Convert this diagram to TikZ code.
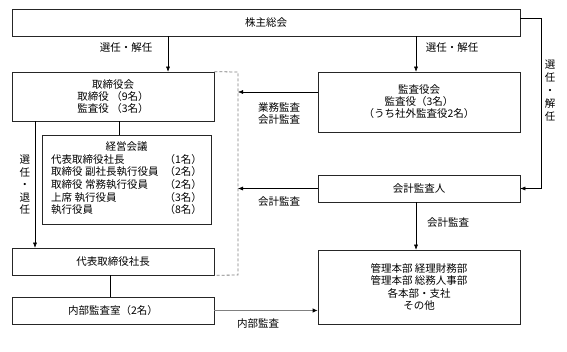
\documentclass[tikz,border=0pt]{standalone}
\usepackage{fontspec}
\setmainfont{Noto Sans CJK JP}
\usetikzlibrary{arrows.meta}
\tikzset{
  box/.style={draw=black!85,line width=0.6pt,inner sep=2pt,align=center,font=\fontsize{10.5}{12}\selectfont},
  arr/.style={-{Latex[length=5pt,width=4pt]},line width=0.5pt},
  lbl/.style={font=\fontsize{10.5}{12}\selectfont,align=center}
}
\begin{document}
\begin{tikzpicture}[x=1pt,y=-1pt]
\useasboundingbox (0,0) rectangle (567,351);
\node[box,minimum width=508pt,minimum height=27pt] (kabunushi) at (266,22.5) {株主総会};
\node[box,minimum width=202pt,minimum height=49pt] (torishimari) at (113,96.5) {取締役会\\取締役 （9名）\\監査役 （3名）};
\node[box,minimum width=202pt,minimum height=60pt] (kansayaku) at (419,102) {監査役会\\監査役（3名）\\（うち社外監査役2名）};
\node[box,minimum width=169pt,minimum height=89pt] (keiei) at (126.5,179.5) {\begin{tabular}{@{}l@{\hspace{6pt}}l@{}}
\multicolumn{2}{c}{経営会議}\\
代表取締役社長&（1名）\\
取締役 副社長執行役員&（2名）\\
取締役 常務執行役員&（2名）\\
上席 執行役員&（3名）\\
執行役員&（8名）
\end{tabular}};
\node[box,minimum width=202pt,minimum height=27pt] (kaikei) at (419,188.5) {会計監査人};
\node[box,minimum width=202pt,minimum height=27pt] (daihyo) at (113,261.5) {代表取締役社長};
\node[box,minimum width=202pt,minimum height=27pt] (naibu) at (113,310.5) {内部監査室（2名）};
\node[box,minimum width=202pt,minimum height=74pt,font=\fontsize{10.5}{12.5}\selectfont] (kanri) at (419,287) {管理本部 経理財務部\\管理本部 総務人事部\\各本部・支社\\その他};

\coordinate (a1) at (168,0);
\coordinate (a2) at (416,0);
\coordinate (a3) at (119,0);
\coordinate (a4) at (35,0);
\coordinate (a5) at (110,0);
\coordinate (m1) at (0,92);
\coordinate (r1) at (541,18);
\coordinate (dash1) at (238,72);
\coordinate (dash2) at (238,275);

\draw[arr] (kabunushi.south -| a1) -- (torishimari.north -| a1);
\draw[arr] (kabunushi.south -| a2) -- (kansayaku.north -| a2);
\draw[arr] (kaikei.south -| a2) -- (kanri.north -| a2);
\draw (torishimari.south -| a3) -- (keiei.north -| a3);
\draw[arr] (torishimari.south -| a4) -- (daihyo.north -| a4);
\draw (daihyo.south -| a5) -- (naibu.north -| a5);
\draw[-{Latex[length=5pt,width=4.5pt,color=black]},gray,line width=1.2pt] (naibu.east) -- (naibu.east -| kanri.west);
\draw[dash pattern=on 3pt off 2pt,gray,line width=0.8pt] (torishimari.north east) -- (dash1) -- (dash2) -- (daihyo.south east);
\draw[arr] (kansayaku.west |- m1) -- (dash1 |- m1);
\draw[arr] (kaikei.west) -- (dash1 |- kaikei.west);
\draw[arr] (kabunushi.east |- r1) -- (r1) -- (r1 |- kaikei.east) -- (kaikei.east);

\node[lbl] (l1) at (126,48) {選任・解任};
\node[lbl] (l2) at (452,48) {選任・解任};
\node[lbl] (l3) at (279,114) {業務監査\\会計監査};
\node[lbl] (l4) at (279,202) {会計監査};
\node[lbl] (l5) at (448,223) {会計監査};
\node[lbl] (l6) at (258,324) {内部監査};
\node[lbl,font=\fontsize{10.5}{12.5}\selectfont] (l7) at (25,185) {選\\任\\・\\退\\任};
\node[lbl,font=\fontsize{10.5}{13}\selectfont] (l8) at (550,91) {選\\任\\・\\解\\任};
\end{tikzpicture}
\end{document}
